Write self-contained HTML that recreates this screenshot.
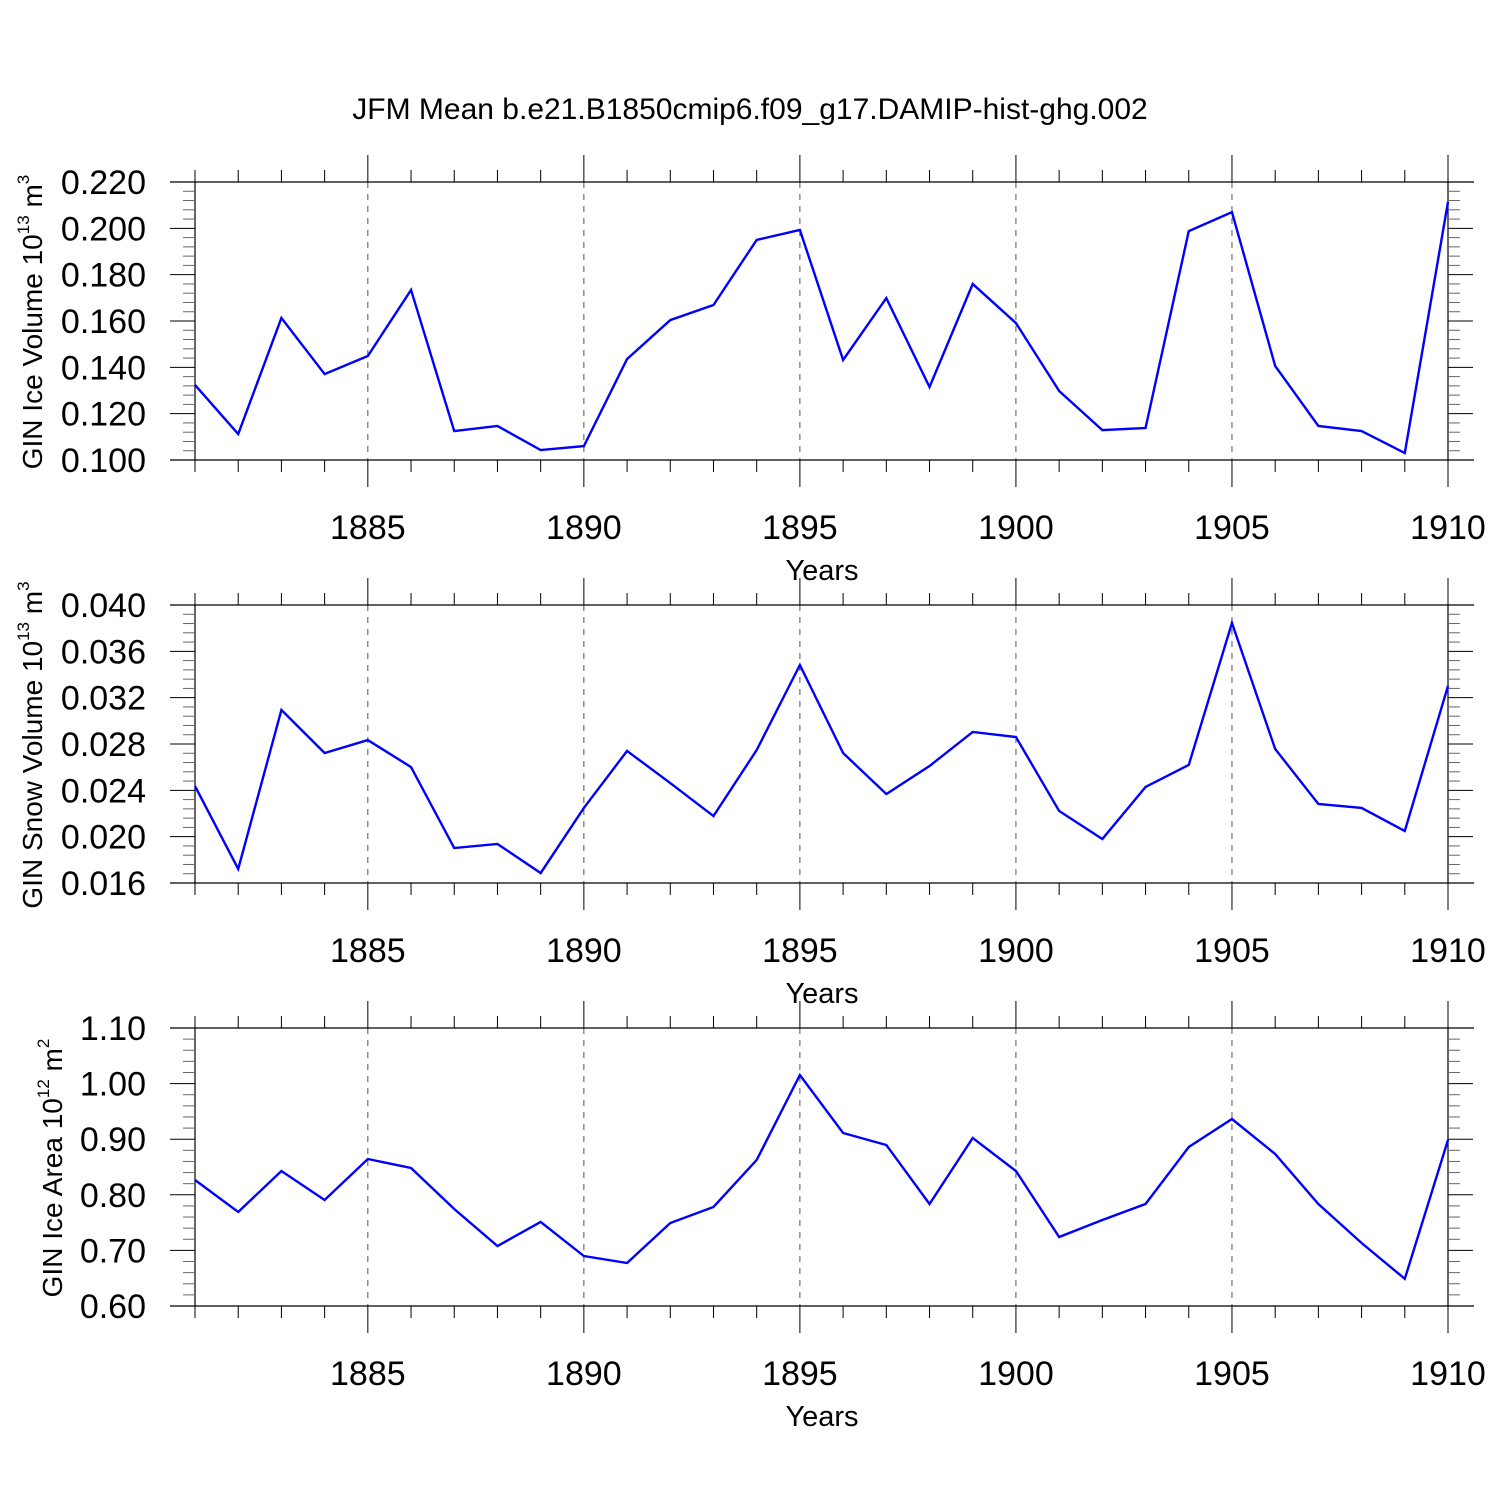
<!DOCTYPE html>
<html><head><meta charset="utf-8"><style>
body{margin:0;background:#fff}
svg text{font-family:"Liberation Sans",sans-serif;fill:#000}
</style></head><body>
<svg id="chart" width="1500" height="1500" viewBox="0 0 1500 1500" xmlns="http://www.w3.org/2000/svg">
<rect width="1500" height="1500" fill="#fff"/>
<text x="750" y="119" font-size="30" text-anchor="middle">JFM Mean b.e21.B1850cmip6.f09_g17.DAMIP-hist-ghg.002</text>
<g id="plots"></g>
</svg>
<script>
const years = [1881,1882,1883,1884,1885,1886,1887,1888,1889,1890,1891,1892,1893,1894,1895,1896,1897,1898,1899,1900,1901,1902,1903,1904,1905,1906,1907,1908,1909,1910];
const iceVolume = [0.1324,0.1112,0.1613,0.1371,0.1449,0.1734,0.1125,0.1147,0.1043,0.1060,0.1436,0.1604,0.1669,0.1950,0.1993,0.1432,0.1699,0.1315,0.1760,0.1591,0.1298,0.1129,0.1138,0.1988,0.2070,0.1406,0.1147,0.1125,0.1030,0.2114];
const snowVolume = [0.02437,0.01721,0.03094,0.02722,0.02834,0.02601,0.01902,0.01937,0.01686,0.02248,0.02740,0.02463,0.02178,0.02748,0.03482,0.02722,0.02368,0.02610,0.02904,0.02860,0.02222,0.01980,0.02429,0.02619,0.03845,0.02757,0.02282,0.02248,0.02049,0.03301];
const iceArea = [0.8266,0.7691,0.8428,0.7906,0.8644,0.8482,0.7745,0.7079,0.7511,0.6899,0.6773,0.7493,0.7781,0.8626,1.0155,0.9112,0.8896,0.7835,0.9022,0.8428,0.7241,0.7547,0.7835,0.8860,0.9363,0.8734,0.7835,0.7133,0.6489,0.8986];
const xTickLabels = [1885,1890,1895,1900,1905,1910];
const iceVolTicks = ["0.100","0.120","0.140","0.160","0.180","0.200","0.220"];
const snowVolTicks = ["0.016","0.020","0.024","0.028","0.032","0.036","0.040"];
const iceAreaTicks = ["0.60","0.70","0.80","0.90","1.00","1.10"];

const NS="http://www.w3.org/2000/svg";
const g=document.getElementById('plots');
function el(tag,attrs,parent){const e=document.createElementNS(NS,tag);for(const k in attrs)e.setAttribute(k,attrs[k]);(parent||g).appendChild(e);return e;}

const X0=195,X1=1448,Y0=1881,Y1=1910;
function xs(y){return X0+(y-Y0)*(X1-X0)/(Y1-Y0);}

const panels=[
 {top:182,vals:iceVolume,ticks:iceVolTicks,name:'ice-volume',title:'GIN Ice Volume 10',sup:'13',unit:' m',usup:'3',tx:42},
 {top:605,vals:snowVolume,ticks:snowVolTicks,name:'snow-volume',title:'GIN Snow Volume 10',sup:'13',unit:' m',usup:'3',tx:42},
 {top:1028,vals:iceArea,ticks:iceAreaTicks,name:'ice-area',title:'GIN Ice Area 10',sup:'12',unit:' m',usup:'2',tx:62}
];
const H=278;
panels.forEach(p=>{
 const pg=el('g',{});
 
 
 const lo=parseFloat(p.ticks[0]),hi=parseFloat(p.ticks[p.ticks.length-1]);
 const bot=p.top+H;
 const ys=v=>bot-(v-lo)/(hi-lo)*H;
 xTickLabels.forEach(t=>{if(t<Y1){const l=el('line',{x1:xs(t),x2:xs(t),y1:p.top,y2:bot,stroke:'#555','stroke-width':1,'stroke-dasharray':'6,6'},pg);
  
  }});
 el('line',{x1:170,x2:1474,y1:p.top,y2:p.top,stroke:'#000','stroke-width':1.2},pg);
 el('line',{x1:170,x2:1474,y1:bot,y2:bot,stroke:'#000','stroke-width':1.2},pg);
 el('line',{x1:X0,x2:X0,y1:p.top,y2:bot,stroke:'#000','stroke-width':1.2},pg);
 el('line',{x1:X1,x2:X1,y1:p.top,y2:bot,stroke:'#000','stroke-width':1.2},pg);
 for(let yr=Y0;yr<=Y1;yr++){
  const maj=yr%5===0, len=maj?27:12, x=xs(yr);
  el('line',{x1:x,x2:x,y1:p.top,y2:p.top-len,stroke:'#000','stroke-width':1},pg);
  el('line',{x1:x,x2:x,y1:bot,y2:bot+len,stroke:'#000','stroke-width':1},pg);
 }
 xTickLabels.forEach(t=>{const tx=el('text',{x:xs(t),y:bot+79,'font-size':34,'text-anchor':'middle'},pg);tx.textContent=t;
  
  });
 const xt=el('text',{x:822,y:bot+120,'font-size':29,'text-anchor':'middle'},pg);xt.textContent='Years';
 
 
 const n=p.ticks.length-1;
 for(let i=0;i<=n*5;i++){
  const y=bot-i*H/(n*5), maj=i%5===0;
  el('line',{x1:X0,x2:X0-(maj?25:12),y1:y,y2:y,stroke:maj?'#000':'#666','stroke-width':1},pg);
  el('line',{x1:X1,x2:X1+(maj?25:12),y1:y,y2:y,stroke:maj?'#000':'#666','stroke-width':1},pg);
 }
 p.ticks.forEach((t,i)=>{const tx=el('text',{x:146,y:ys(parseFloat(t))+12,'font-size':34,'text-anchor':'end'},pg);tx.textContent=t;
  
  });
 const yt=el('text',{x:0,y:0,'font-size':28,'text-anchor':'middle',transform:`translate(${p.tx},${p.top+140}) rotate(-90)`},pg);
 
 
 const a=el('tspan',{},yt);a.textContent=p.title;
 const b=el('tspan',{dy:-13,'font-size':17},yt);b.textContent=p.sup;
 const c=el('tspan',{dy:13},yt);c.textContent=p.unit;
 const d=el('tspan',{dy:-13,'font-size':17},yt);d.textContent=p.usup;
 const pts=years.map((yr,i)=>xs(yr)+','+ys(p.vals[i])).join(' ');
 const pl=el('polyline',{points:pts,fill:'none',stroke:'#0000ff','stroke-width':2.4,'stroke-linejoin':'miter'},pg);
 
 
});
</script>
</body></html>
